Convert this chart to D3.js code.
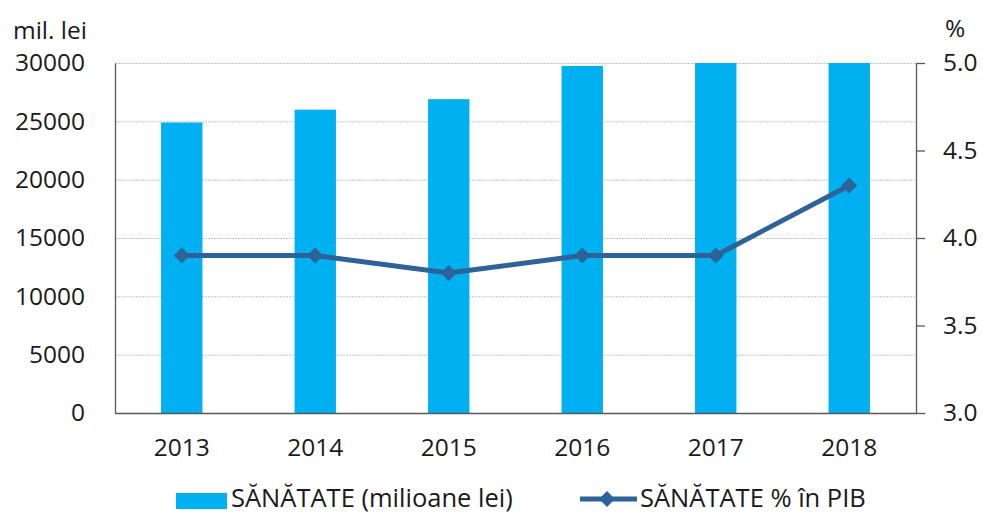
<!DOCTYPE html>
<html>
<head>
<meta charset="utf-8">
<script src="https://cdn.jsdelivr.net/npm/d3@7"></script>
<style>
  body { margin: 0; background: #fff; }
  text { font-family: "Open Sans", "Noto Sans", sans-serif; fill: #1a1a1a; }
</style>
</head>
<body>
<div id="chart"></div>
<script>
// data
var years = ["2013", "2014", "2015", "2016", "2017", "2018"];
var sanatateLei = [24900, 26000, 26900, 29750, 31500, 34000];
var sanatatePib = [3.9, 3.9, 3.8, 3.9, 3.9, 4.3];
var leftTicks = [0, 5000, 10000, 15000, 20000, 25000, 30000];
var rightTicks = [3.0, 3.5, 4.0, 4.5, 5.0];

var W = 983, H = 513;
var margin = {top: 63, right: 67, bottom: 100, left: 115},
    width = W - margin.left - margin.right,
    height = H - margin.top - margin.bottom;

var svg = d3.select("#chart").append("svg")
    .attr("width", W).attr("height", H);

var g = svg.append("g")
    .attr("transform", "translate(" + margin.left + "," + margin.top + ")");

var x = d3.scaleBand().domain(years).range([0, width]).padding(0);
var y = d3.scaleLinear().domain([0, 30000]).range([height, 0]);
var y2 = d3.scaleLinear().domain([3, 5]).range([height, 0]);

// gridlines
g.append("g")
  .attr("class", "grid")
  .call(d3.axisLeft(y).tickValues(leftTicks).tickSize(-width).tickFormat(""))
  .call(function(s) {
    s.select(".domain").remove();
    s.selectAll("line").attr("stroke", "#c4c4c4").attr("stroke-dasharray", "2,1");
  });

// bars (clipped to plot area)
g.append("clipPath").attr("id", "clip")
  .append("rect").attr("width", width).attr("height", height);

var barW = x.bandwidth() * 0.31;
g.append("g").attr("clip-path", "url(#clip)")
  .selectAll("rect").data(years).enter().append("rect")
    .attr("x", function(d) { return x(d) + x.bandwidth() / 2 - barW / 2; })
    .attr("width", barW)
    .attr("y", function(d, i) { return y(sanatateLei[i]); })
    .attr("height", function(d, i) { return height - y(sanatateLei[i]); })
    .attr("fill", "#00B0F0");

// left axis
g.append("g")
  .call(d3.axisLeft(y).tickValues(leftTicks).tickSize(0).tickPadding(30).tickFormat(d3.format("d")))
  .call(function(s) {
    s.select(".domain").attr("stroke", "#595959").attr("stroke-width", 1.3);
    s.selectAll("text").style("font-size", "24.5px").attr("fill", "#1a1a1a");
  });

// bottom axis
g.append("g")
  .attr("transform", "translate(0," + height + ")")
  .call(d3.axisBottom(x).tickSize(0).tickPadding(26))
  .call(function(s) {
    s.select(".domain").attr("stroke", "#595959").attr("stroke-width", 1.3);
    s.selectAll("text").style("font-size", "24.5px").attr("fill", "#1a1a1a");
  });

// right axis
g.append("g")
  .attr("transform", "translate(" + width + ",0)")
  .call(d3.axisRight(y2).tickValues(rightTicks).tickSize(9).tickSizeOuter(0).tickPadding(18).tickFormat(d3.format(".1f")))
  .call(function(s) {
    s.select(".domain").attr("stroke", "#595959").attr("stroke-width", 1.3);
    s.selectAll("line").attr("stroke", "#595959").attr("stroke-width", 1.3);
    s.selectAll("text").style("font-size", "24.5px").attr("fill", "#1a1a1a");
  });

// line
var line = d3.line()
  .x(function(d, i) { return x(years[i]) + x.bandwidth() / 2; })
  .y(function(d) { return y2(d); });

g.append("path")
  .datum(sanatatePib)
  .attr("d", line)
  .attr("fill", "none")
  .attr("stroke", "#2E6399")
  .attr("stroke-width", 5);

var diamond = d3.symbol().type(d3.symbolDiamond2).size(160);
g.selectAll(".marker").data(sanatatePib).enter().append("path")
  .attr("class", "marker")
  .attr("d", diamond)
  .attr("transform", function(d, i) {
    return "translate(" + (x(years[i]) + x.bandwidth() / 2) + "," + y2(d) + ")";
  })
  .attr("fill", "#2E6399");

// axis titles
svg.append("text").attr("x", 13).attr("y", 39).style("font-size", "24.5px").text("mil. lei");
svg.append("text").attr("x", 945).attr("y", 37).style("font-size", "24.5px").text("%");

// legend
var leg = svg.append("g");
leg.append("rect").attr("x", 176).attr("y", 493).attr("width", 51).attr("height", 16).attr("fill", "#00B0F0");
leg.append("text").attr("x", 231).attr("y", 507).style("font-size", "25.5px").text("SĂNĂTATE (milioane lei)");
leg.append("line").attr("x1", 580).attr("x2", 637).attr("y1", 499).attr("y2", 499)
  .attr("stroke", "#2E6399").attr("stroke-width", 5);
leg.append("path").attr("d", diamond).attr("transform", "translate(607,499)").attr("fill", "#2E6399");
leg.append("text").attr("x", 640).attr("y", 507).style("font-size", "25.5px").text("SĂNĂTATE % în PIB");
</script>
</body>
</html>
